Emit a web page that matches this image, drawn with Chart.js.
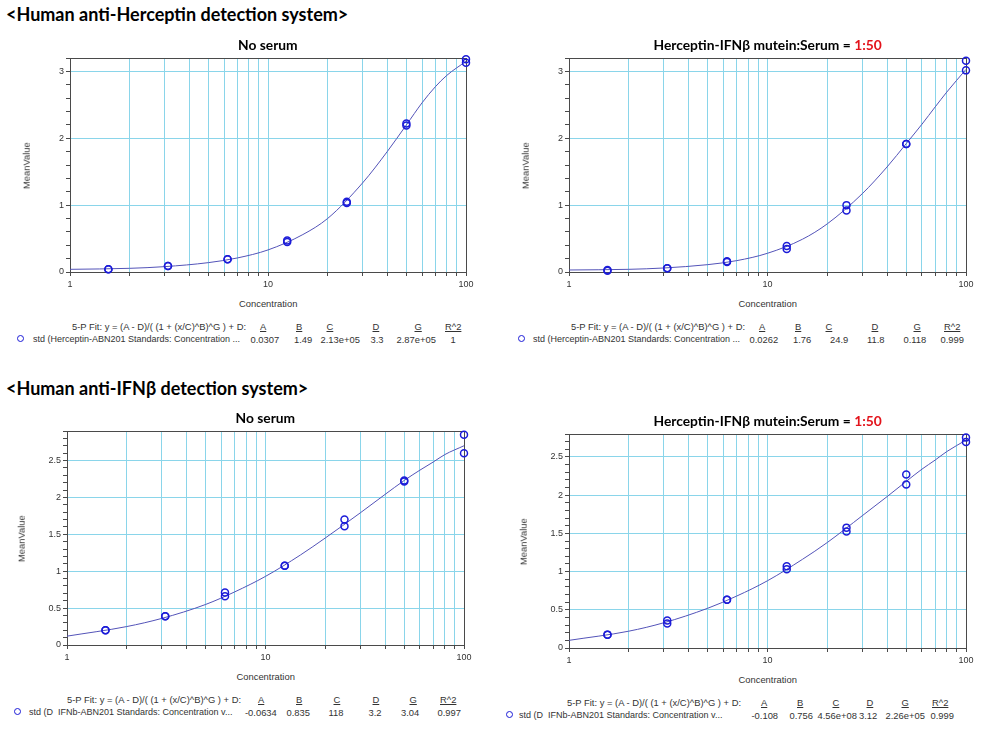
<!DOCTYPE html>
<html>
<head>
<meta charset="utf-8">
<script src="https://cdn.jsdelivr.net/npm/chart.js@4.4.1/dist/chart.umd.min.js"></script>
<style>
  body { margin: 0; background: #fff; }
  #page { position: relative; width: 983px; height: 729px; overflow: hidden; font-family: "Liberation Sans", Arial, sans-serif; }
  .t { position: absolute; white-space: pre; line-height: 1; }
  .head { font: bold 18px Lato, sans-serif; color: #000; }
  .ttl { font: bold 13.8px Lato, sans-serif; color: #000; }
  .red { color: #e3131b; }
  .small { font-size: 9.4px; color: #333; }
  .ser { font-size: 9px; color: #333; }
  .u { text-decoration: underline; }
  .mark { position: absolute; width: 5px; height: 5px; border: 1.5px solid #1c1cd8; border-radius: 50%; }
  canvas { position: absolute; }
</style>
</head>
<body>
<div id="page"></div>
<script>
// ---- data ----
// standards, run in duplicate
const conc = [1.5625, 1.5625, 3.125, 3.125, 6.25, 6.25, 12.5, 12.5, 25, 25, 50, 50, 100, 100];
// concentrations where the fitted curves were read
const fitConc = [1, 2, 3, 5, 7, 10, 15, 20, 30, 40, 50, 60, 70, 80, 100];

// Human anti-Herceptin, no serum
const herNoSerum    = [0.04, 0.04, 0.09, 0.09, 0.19, 0.19, 0.47, 0.45, 1.05, 1.03, 2.22, 2.19, 3.18, 3.13];
const herNoSerumFit = [0.04, 0.055, 0.08, 0.14, 0.21, 0.33, 0.56, 0.8, 1.33, 1.8, 2.2, 2.53, 2.77, 2.94, 3.15];
// Human anti-Herceptin, 1:50 serum
const herSerum    = [0.02, 0.03, 0.055, 0.055, 0.15, 0.16, 0.39, 0.345, 1.0, 0.92, 1.915, 1.915, 3.16, 3.015];
const herSerumFit = [0.03, 0.04, 0.06, 0.11, 0.17, 0.28, 0.49, 0.72, 1.17, 1.57, 1.92, 2.21, 2.47, 2.69, 3.03];
// Human anti-IFNb, no serum
const ifnNoSerum    = [0.2, 0.2, 0.39, 0.39, 0.71, 0.66, 1.075, 1.075, 1.70, 1.61, 2.23, 2.215, 2.85, 2.60];
const ifnNoSerumFit = [0.12, 0.25, 0.36, 0.55, 0.72, 0.93, 1.22, 1.45, 1.79, 2.04, 2.23, 2.37, 2.48, 2.58, 2.7];
// Human anti-IFNb, 1:50 serum
const ifnSerum    = [0.175, 0.175, 0.36, 0.32, 0.63, 0.63, 1.07, 1.03, 1.575, 1.525, 2.27, 2.14, 2.755, 2.695];
const ifnSerumFit = [0.1, 0.22, 0.33, 0.52, 0.68, 0.88, 1.16, 1.38, 1.73, 1.98, 2.18, 2.34, 2.46, 2.57, 2.72];

const xTicks = [1, 2, 3, 4, 5, 6, 7, 8, 9, 10, 20, 30, 40, 50, 60, 70, 80, 90, 100];
const xTickLabels = [1, 10, 100];
const yLabelsHer = [0, 1, 2, 3];
const yLabelsIfn = [0, 0.5, 1, 1.5, 2, 2.5];

const fitHeads = ["A", "B", "C", "D", "G", "R^2"];
const herNoSerumParams = ["0.0307", "1.49", "2.13e+05", "3.3", "2.87e+05", "1"];
const herSerumParams   = ["0.0262", "1.76", "24.9", "11.8", "0.118", "0.999"];
const ifnNoSerumParams = ["-0.0634", "0.835", "118", "3.2", "3.04", "0.997"];
const ifnSerumParams   = ["-0.108", "0.756", "4.56e+08", "3.12", "2.26e+05", "0.999"];

const fitFormula = "5-P Fit: y = (A - D)/( (1 + (x/C)^B)^G ) + D:";
const herSeriesName = "std (Herceptin-ABN201 Standards: Concentration ...";
const ifnSeriesName = "std (D  IFNb-ABN201 Standards: Concentration v...";

// ---- layout ----
const page = document.getElementById("page");
const Y_W = 60, PAD_T = 10, PAD_R = 16, X_H = 22;
const GRID = "#8ad5ea", AXIS = "#4a4a4a";

function text(str, x, y, cls, align) {
    const d = document.createElement("div");
    d.className = "t " + cls;
    d.textContent = str;
    page.appendChild(d);
    const w = d.offsetWidth, h = d.offsetHeight;
    const dx = align === "center" ? w / 2 : (align === "right" ? w : 0);
    d.style.left = (x - dx) + "px";
    d.style.top = (y - h / 2) + "px";
    return d;
}

const framePlugin = {
    id: "frame",
    beforeDatasetsDraw(chart) {
        const { ctx, chartArea: a } = chart;
        ctx.save();
        ctx.strokeStyle = AXIS;
        ctx.lineWidth = 1;
        ctx.strokeRect(Math.round(a.left) + 0.5, Math.round(a.top) + 0.5,
            Math.round(a.right - a.left), Math.round(a.bottom - a.top));
        ctx.restore();
    }
};

function panel(p) {
    const [l, t, r, b] = p.plot;
    const cv = document.createElement("canvas");
    cv.width = Y_W + (r - l) + PAD_R;
    cv.height = PAD_T + (b - t) + X_H;
    cv.style.left = (l - Y_W) + "px";
    cv.style.top = (t - PAD_T) + "px";
    page.appendChild(cv);

    new Chart(cv, {
        type: "scatter",
        data: {
            datasets: [{
                type: "line",
                data: fitConc.map((x, i) => ({ x: x, y: p.fit[i] })),
                borderColor: "#5353b8",
                borderWidth: 1,
                pointRadius: 0,
                cubicInterpolationMode: "monotone",
                fill: false,
                clip: false,
                order: 2
            }, {
                data: conc.map((x, i) => ({ x: x, y: p.pts[i] })),
                pointRadius: 3.5,
                pointBorderWidth: 1.5,
                pointBorderColor: "#1c1cd8",
                pointBackgroundColor: "rgba(0,0,0,0)",
                showLine: false,
                clip: false,
                order: 1
            }]
        },
        options: {
            responsive: false,
            animation: false,
            events: [],
            layout: { padding: { top: PAD_T, right: PAD_R, left: 0, bottom: 0 } },
            plugins: { legend: { display: false }, tooltip: { enabled: false } },
            scales: {
                x: {
                    type: "logarithmic",
                    min: 1,
                    max: 100,
                    afterBuildTicks: s => { s.ticks = xTicks.map(v => ({ value: v })); },
                    afterFit: s => { s.height = X_H; },
                    border: { color: AXIS },
                    grid: {
                        color: c => (c.tick && (c.tick.value === 1 || c.tick.value === 100)) ? "rgba(0,0,0,0)" : GRID,
                        tickColor: AXIS,
                        tickLength: 4
                    },
                    ticks: {
                        autoSkip: false,
                        maxRotation: 0,
                        padding: 3,
                        color: "#333",
                        font: { family: "Liberation Sans", size: 9 },
                        callback: v => xTickLabels.includes(v) ? String(v) : ""
                    }
                },
                y: {
                    min: 0,
                    max: p.ymax,
                    afterBuildTicks: s => {
                        const ticks = [];
                        const n = Math.round(p.ymax / p.minor);
                        for (let i = 0; i <= n; i++) ticks.push({ value: Math.round(i * p.minor * 10) / 10 });
                        s.ticks = ticks;
                    },
                    afterFit: s => { s.width = Y_W; },
                    border: { color: AXIS },
                    grid: {
                        color: c => (c.tick && c.tick.value > 0 && p.yLabels.includes(c.tick.value)) ? GRID : "rgba(0,0,0,0)",
                        tickColor: AXIS,
                        tickLength: 4
                    },
                    ticks: {
                        autoSkip: false,
                        padding: 2,
                        color: "#333",
                        font: { family: "Liberation Sans", size: 9 },
                        callback: v => p.yLabels.includes(v) ? String(v) : ""
                    }
                }
            }
        },
        plugins: [framePlugin]
    });

    // titles and axis captions
    const cx = (l + r) / 2;
    const ttl = text(p.title, cx, t - 14, "ttl", "center");
    if (p.ratio) {
        const s = document.createElement("span");
        s.className = "red";
        s.textContent = p.ratio;
        ttl.appendChild(s);
        ttl.style.left = (cx - ttl.offsetWidth / 2) + "px";
    }
    const mv = text("MeanValue", p.yTitleX, (t + b) / 2, "small", "center");
    mv.style.transform = "rotate(-90deg)";
    text("Concentration", cx, b + 31, "small", "center");

    // fit summary
    text(fitFormula, p.formulaX, b + 54, "small", "left");
    fitHeads.forEach((h, i) => text(h, p.headX[i], b + 54, "small u", "center"));
    const mk = document.createElement("div");
    mk.className = "mark";
    mk.style.left = (p.markX - 4) + "px";
    mk.style.top = (b + 67 - 4) + "px";
    page.appendChild(mk);
    text(p.series, p.seriesX, b + 67, "ser", "left");
    p.params.forEach((v, i) => text(v, p.valX[i], b + 67, "small", "center"));
}

text("<Human anti-Herceptin detection system>", 6, 14, "head", "left");
text("<Human anti-IFNβ detection system>", 6, 388, "head", "left");

panel({
    plot: [70, 58, 466, 272], ymax: 3.2, minor: 0.2, yLabels: yLabelsHer,
    pts: herNoSerum, fit: herNoSerumFit, title: "No serum", yTitleX: 26,
    formulaX: 72, headX: [263, 299, 330, 376, 418, 453],
    markX: 21, seriesX: 33, series: herSeriesName,
    params: herNoSerumParams, valX: [265, 303, 340, 377, 416, 453]
});
panel({
    plot: [569, 58, 966, 272], ymax: 3.2, minor: 0.2, yLabels: yLabelsHer,
    pts: herSerum, fit: herSerumFit, title: "Herceptin-IFNβ mutein:Serum = ", ratio: "1:50", yTitleX: 525,
    formulaX: 571, headX: [762, 798, 829, 875, 917, 952],
    markX: 522, seriesX: 533, series: herSeriesName,
    params: herSerumParams, valX: [764, 802, 839, 876, 915, 952]
});
panel({
    plot: [67, 431, 464, 645], ymax: 2.9, minor: 0.1, yLabels: yLabelsIfn,
    pts: ifnNoSerum, fit: ifnNoSerumFit, title: "No serum", yTitleX: 21,
    formulaX: 67, headX: [261, 299, 337, 376, 413, 448],
    markX: 18, seriesX: 29, series: ifnSeriesName,
    params: ifnNoSerumParams, valX: [261, 298, 336, 375, 410, 449]
});
panel({
    plot: [569, 434, 966, 648], ymax: 2.8, minor: 0.1, yLabels: yLabelsIfn,
    pts: ifnSerum, fit: ifnSerumFit, title: "Herceptin-IFNβ mutein:Serum = ", ratio: "1:50", yTitleX: 523,
    formulaX: 567, headX: [764, 800, 836, 870, 905, 940],
    markX: 510, seriesX: 519, series: ifnSeriesName,
    params: ifnSerumParams, valX: [765, 801, 837, 868, 905, 942]
});
</script>
</body>
</html>
